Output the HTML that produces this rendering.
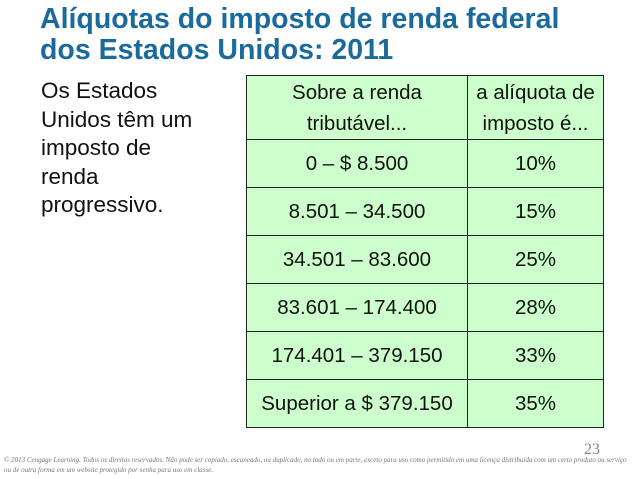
<!DOCTYPE html>
<html><head><meta charset="utf-8"><style>
body{margin:0;width:638px;height:479px;background:#fff;position:relative;overflow:hidden;font-family:"Liberation Sans",sans-serif}
.title{position:absolute;left:40px;top:4px;color:#1b6a9c;font-weight:bold;font-size:28.5px;line-height:31px;white-space:nowrap}
.side{position:absolute;left:41px;top:77px;font-size:22.5px;line-height:28.5px;color:#111}
table{position:absolute;left:246px;top:75px;border-collapse:collapse;background:#ccffcc}
td{border:1.5px solid #222;text-align:center;font-size:20.5px;color:#111;height:47px;padding:0;white-space:nowrap}
td.h{height:63px;line-height:31px}
.foot{position:absolute;left:4px;top:455px;font-family:"Liberation Serif",serif;font-style:italic;font-size:7px;color:#777;line-height:10px;width:630px}
.pg{position:absolute;left:584px;top:441px;font-family:"Liberation Serif",serif;font-size:16px;color:#888}
</style></head><body>
<div class="title">Alíquotas do imposto de renda federal<br>dos Estados Unidos: 2011</div>
<div class="side">Os Estados<br>Unidos têm um<br>imposto de<br>renda<br>progressivo.</div>
<table>
<tr><td class="h" style="width:220px">Sobre a renda<br>tributável...</td><td class="h" style="width:135px">a alíquota de<br>imposto é...</td></tr>
<tr><td>0 – $ 8.500</td><td>10%</td></tr>
<tr><td>8.501 – 34.500</td><td>15%</td></tr>
<tr><td>34.501 – 83.600</td><td>25%</td></tr>
<tr><td>83.601 – 174.400</td><td>28%</td></tr>
<tr><td>174.401 – 379.150</td><td>33%</td></tr>
<tr><td>Superior a $ 379.150</td><td>35%</td></tr>
</table>
<div class="pg">23</div>
<div class="foot">© 2013 Cengage Learning. Todos os direitos reservados. Não pode ser copiado, escaneado, ou duplicado, no todo ou em parte, exceto para uso como permitido em uma licença distribuída com um certo produto ou serviço ou de outra forma em um website protegido por senha para uso em classe.</div>
</body></html>
